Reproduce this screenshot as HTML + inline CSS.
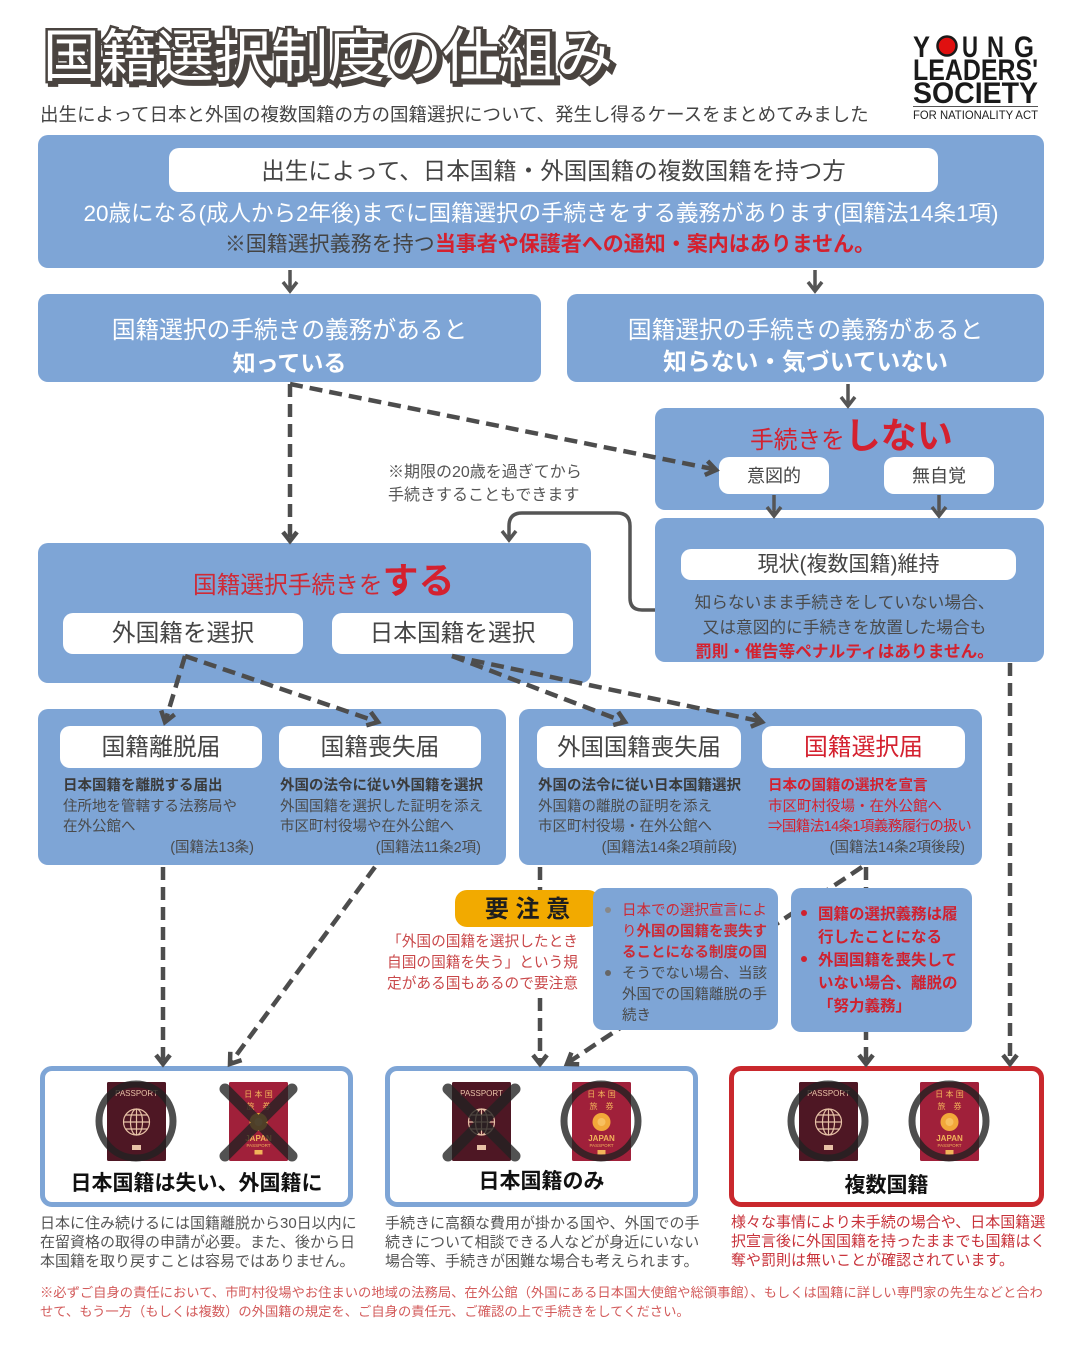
<!DOCTYPE html>
<html><head><meta charset="utf-8">
<style>
*{margin:0;padding:0;box-sizing:border-box}
body{width:1080px;height:1350px;background:#fff;overflow:hidden}
#c{position:relative;width:1080px;height:1350px;font-family:"Liberation Sans","Noto Sans CJK JP",sans-serif;color:#444;background:#fff}
.a{position:absolute;white-space:nowrap;z-index:2}
.box{position:absolute;background:#7ea5d6;border-radius:10px;z-index:1}
.pill{position:absolute;background:#fff;border-radius:10px;text-align:center;color:#454545;white-space:nowrap;z-index:2}
.w{color:#fff}
.r{color:#d4212f}
.b{font-weight:bold}
.n{z-index:4}
.nt{z-index:5}
.sub{font-size:14.5px;line-height:20.5px;color:#4a4a4a}
.sub b{color:#3b3b3b}
.bb{position:absolute;background:#fff;border:5px solid #7ea5d6;border-radius:12px;z-index:1}
.desc{font-size:15px;line-height:19px;color:#555}
</style></head><body><div id="c">

<!-- Title -->
<div class="a" style="left:46px;top:25px;font-size:57px;line-height:70px;font-weight:400;color:#4a4440;-webkit-text-stroke:6px #4a4440">国籍選択制度の仕組み</div>
<div class="a" style="left:43px;top:22px;font-size:57px;line-height:70px;font-weight:400;color:#4a4440;-webkit-text-stroke:5px #4a4440">国籍選択制度の仕組み</div>
<div class="a" style="left:43px;top:22px;font-size:57px;line-height:70px;font-weight:400;color:#fff">国籍選択制度の仕組み</div>

<div class="a" style="left:40px;top:103px;font-size:18.5px;line-height:24px;color:#444">出生によって日本と外国の複数国籍の方の国籍選択について、発生し得るケースをまとめてみました</div>

<!-- Logo -->
<svg class="a" style="left:900px;top:25px" width="160" height="100" viewBox="900 25 160 100">
<g font-family="Liberation Sans, sans-serif" font-weight="bold" font-size="30" fill="#1a1a1a">
<text x="913" y="57" textLength="17" lengthAdjust="spacingAndGlyphs">Y</text>
<text x="962" y="57" textLength="16" lengthAdjust="spacingAndGlyphs">U</text>
<text x="987" y="57" textLength="17" lengthAdjust="spacingAndGlyphs">N</text>
<text x="1014" y="57" textLength="20" lengthAdjust="spacingAndGlyphs">G</text>
<text x="913" y="80" textLength="125" lengthAdjust="spacingAndGlyphs">LEADERS'</text>
<text x="913" y="103" textLength="125" lengthAdjust="spacingAndGlyphs">SOCIETY</text>
</g>
<circle cx="947" cy="46" r="9.5" fill="#e01010" stroke="#1a1a1a" stroke-width="2.5"/>
<line x1="913" y1="106.5" x2="1038" y2="106.5" stroke="#555" stroke-width="1"/>
<text x="913" y="119" font-size="12" textLength="125" lengthAdjust="spacingAndGlyphs" font-family="Liberation Sans, sans-serif" fill="#222">FOR NATIONALITY ACT</text>
</svg>

<!-- Top box -->
<div class="box" style="left:38px;top:135px;width:1006px;height:133px"></div>
<div class="pill" style="left:169px;top:148px;width:769px;height:44px;line-height:46px;font-size:23.5px">出生によって、日本国籍・外国国籍の複数国籍を持つ方</div>
<div class="a w" style="left:38px;top:199px;width:1006px;text-align:center;font-size:22.5px;line-height:30px">20歳になる(成人から2年後)までに国籍選択の手続きをする義務があります(国籍法14条1項)</div>
<div class="a" style="left:47px;top:230px;width:1006px;text-align:center;font-size:21px;line-height:30px;color:#444">※国籍選択義務を持つ<span class="r b">当事者や保護者への通知・案内はありません。</span></div>

<!-- Row 2 -->
<div class="box" style="left:38px;top:294px;width:503px;height:88px"></div>
<div class="a w" style="left:38px;top:316px;width:503px;text-align:center;font-size:23.7px;line-height:30px">国籍選択の手続きの義務があると</div>
<div class="a w b" style="left:38px;top:348px;width:503px;text-align:center;font-size:23px;line-height:30px">知っている</div>
<div class="box" style="left:567px;top:294px;width:477px;height:88px"></div>
<div class="a w" style="left:567px;top:316px;width:477px;text-align:center;font-size:23.7px;line-height:30px">国籍選択の手続きの義務があると</div>
<div class="a w b" style="left:567px;top:348px;width:477px;text-align:center;font-size:23.8px;line-height:30px">知らない・気づいていない</div>

<!-- しない box -->
<div class="box" style="left:655px;top:408px;width:389px;height:102px"></div>
<div class="a r" style="left:750px;top:416px;line-height:40px;font-size:23.7px">手続きを<span class="b" style="font-size:36px">しない</span></div>
<div class="pill" style="left:719px;top:457px;width:110px;height:37px;line-height:38px;font-size:18px">意図的</div>
<div class="pill" style="left:884px;top:457px;width:110px;height:37px;line-height:38px;font-size:18px">無自覚</div>

<!-- 現状 box -->
<div class="box" style="left:655px;top:518px;width:389px;height:144px"></div>
<div class="pill" style="left:681px;top:549px;width:335px;height:31px;line-height:32px;font-size:21px">現状(複数国籍)維持</div>
<div class="a" style="left:650px;top:591px;width:389px;text-align:center;font-size:16.7px;line-height:24.5px;color:#4a4a4a">知らないまま手続きをしていない場合、<br>又は意図的に手続きを放置した場合も<br><span class="r b">罰則・催告等ペナルティはありません。</span></div>

<!-- note -->
<div class="a" style="left:388px;top:461px;font-size:16px;line-height:23px;color:#555">※期限の20歳を過ぎてから<br>手続きすることもできます</div>

<!-- する box -->
<div class="box" style="left:38px;top:543px;width:553px;height:140px"></div>
<div class="a" style="left:193px;top:561px;line-height:40px;font-size:23.7px;color:#cf2a36">国籍選択手続きを<span class="b" style="font-size:36px;color:#d4212f">する</span></div>
<div class="pill" style="left:63px;top:613px;width:240px;height:41px;line-height:42px;font-size:23.7px">外国籍を選択</div>
<div class="pill" style="left:332px;top:613px;width:241px;height:41px;line-height:42px;font-size:23.7px">日本国籍を選択</div>

<!-- Row 3 -->
<div class="box" style="left:38px;top:709px;width:468px;height:156px"></div>
<div class="box" style="left:519px;top:709px;width:463px;height:156px"></div>
<div class="pill" style="left:60px;top:726px;width:202px;height:42px;line-height:43px;font-size:23.8px">国籍離脱届</div>
<div class="pill" style="left:279px;top:726px;width:202px;height:42px;line-height:43px;font-size:23.8px">国籍喪失届</div>
<div class="pill" style="left:537px;top:726px;width:204px;height:42px;line-height:43px;font-size:23.4px">外国国籍喪失届</div>
<div class="pill" style="left:762px;top:726px;width:203px;height:42px;line-height:43px;font-size:23.8px;color:#d4212f">国籍選択届</div>

<div class="a sub" style="left:63px;top:776px;width:191px"><b>日本国籍を離脱する届出</b><br>住所地を管轄する法務局や<br>在外公館へ<div style="text-align:right">(国籍法13条)</div></div>
<div class="a sub" style="left:280px;top:776px;width:201px"><b>外国の法令に従い外国籍を選択</b><br>外国国籍を選択した証明を添え<br>市区町村役場や在外公館へ<div style="text-align:right">(国籍法11条2項)</div></div>
<div class="a sub" style="left:538px;top:776px;width:199px"><b>外国の法令に従い日本国籍選択</b><br>外国籍の離脱の証明を添え<br>市区町村役場・在外公館へ<div style="text-align:right">(国籍法14条2項前段)</div></div>
<div class="a sub" style="left:768px;top:776px;width:197px"><b style="color:#d4212f">日本の国籍の選択を宣言</b><br><span style="color:#d4212f">市区町村役場・在外公館へ</span><br><span style="color:#d4212f;letter-spacing:-0.6px">⇒国籍法14条1項義務履行の扱い</span><div style="text-align:right">(国籍法14条2項後段)</div></div>

<!-- Connectors -->
<svg class="a" style="left:0;top:0;z-index:3;pointer-events:none" width="1080" height="1350" viewBox="0 0 1080 1350">
<g fill="none" stroke="#555" stroke-width="3.5" stroke-linejoin="miter">
<path d="M290,270 V291 M283,282 L290,291 L297,282"/>
<path d="M815,270 V291 M808,282 L815,291 L822,282"/>
<path d="M848,384 V406 M841,397 L848,406 L855,397"/>
<path d="M774,495 V516 M767,507 L774,516 L781,507"/>
<path d="M939,495 V516 M932,507 L939,516 L946,507"/>
<path d="M655,610 H642 Q630,610 630,598 V526 Q630,513 617,513 H522 Q509,513 509,526 V539"/>
<path d="M502,531 L509,540 L516,531"/>
</g>
<g fill="none" stroke="#4d4d4d" stroke-width="4.5" stroke-dasharray="13 7">
<path d="M290,384 V538"/>
<path d="M290,384 L713,469"/>
<path d="M185,656 L166,719"/>
<path d="M185,656 L375,721"/>
<path d="M452,656 L622,721"/>
<path d="M452,656 L759,721"/>
<path d="M163,867 V1061"/>
<path d="M375,867 L232,1061"/>
<path d="M540,867 V890"/>
<path d="M540,998 V1061"/>
<path d="M862,867 L569,1062"/>
<path d="M866,867 V1061"/>
<path d="M1010,663 V1061"/>
</g>
<g fill="none" stroke="#4d4d4d" stroke-width="4.5" stroke-linejoin="miter">
<polyline points="283,532 290,541 297,532"/>
<polyline points="707.6,461.1 716,470 704.8,474.9"/>
<polyline points="174.6,714.5 165,722 161.2,710.4"/>
<polyline points="366.3,725.4 378,722 370.8,712.1"/>
<polyline points="613.2,725 625,722 618.2,711.9"/>
<polyline points="750.8,726.7 762,722 753.7,713"/>
<polyline points="156,1055 163,1064 170,1055"/>
<polyline points="241.6,1060.1 230,1064 230.3,1051.8"/>
<polyline points="533,1055 540,1064 547,1055"/>
<polyline points="579.2,1064.3 567,1064 571.4,1052.6"/>
<polyline points="859,1055 866,1064 873,1055"/>
<polyline points="1003,1055 1010,1064 1017,1055"/>
</g>
</svg>

<!-- 要注意 -->
<div class="a n" style="left:455px;top:890px;width:145px;height:37px;background:#f2aa00;border-radius:12px"></div>
<div class="a n" style="left:599px;top:898px;width:0;height:0;border-left:13px solid #f2aa00;border-top:10px solid transparent;border-bottom:10px solid transparent"></div>
<div class="a nt b" style="left:455px;top:891px;width:145px;text-align:center;font-size:24px;line-height:37px;color:#1e1e1e">要 注 意</div>
<div class="a nt" style="left:387px;top:932px;font-size:14.7px;line-height:21px;color:#c9484a;background:#fff">「外国の国籍を選択したとき<br>自国の国籍を失う」という規<br>定がある国もあるので要注意</div>

<!-- note boxes -->
<div class="box n" style="left:593px;top:888px;width:185px;height:142px"></div>
<div class="a nt" style="left:605px;top:907px;width:6px;height:6px;border-radius:3px;background:#888"></div>
<div class="a nt" style="left:605px;top:970px;width:6px;height:6px;border-radius:3px;background:#666"></div>
<div class="a nt" style="left:622px;top:900.5px;font-size:14.5px;line-height:21px;color:#cc2b36">日本での選択宣言によ<br>り<b>外国の国籍を喪失す</b><br><b>ることになる制度の国</b><br><span style="color:#4a4a4a">そうでない場合、当該<br>外国での国籍離脱の手<br>続き</span></div>

<div class="box n" style="left:791px;top:888px;width:181px;height:144px"></div>
<div class="a nt" style="left:801px;top:910px;width:6px;height:6px;border-radius:3px;background:#d0212f"></div>
<div class="a nt" style="left:801px;top:956px;width:6px;height:6px;border-radius:3px;background:#d0212f"></div>
<div class="a nt b" style="left:818px;top:902.5px;font-size:15.5px;line-height:23px;color:#d0212f">国籍の選択義務は履<br>行したことになる<br>外国国籍を喪失して<br>いない場合、離脱の<br>「努力義務」</div>

<!-- Bottom boxes -->
<div class="bb" style="left:40px;top:1066px;width:313px;height:141px"></div>
<div class="bb" style="left:385px;top:1066px;width:313px;height:141px"></div>
<div class="bb" style="left:729px;top:1066px;width:315px;height:141px;border-color:#c9282d"></div>

<svg class="a" style="left:0;top:1060px;z-index:5" width="1080" height="120" viewBox="0 1060 1080 120">
<!-- Box A foreign -->
<g transform="translate(107,1082)">
<rect width="59" height="79" rx="1.5" fill="#4e1724"/>
<text x="29.5" y="14" font-size="8" text-anchor="middle" fill="#e7c1a6" font-family="Liberation Sans, sans-serif">PASSPORT</text>
<g fill="none" stroke="#e7c1a6" stroke-width="1.2"><circle cx="29.5" cy="40" r="13"/><ellipse cx="29.5" cy="40" rx="6" ry="13"/><line x1="29.5" y1="27" x2="29.5" y2="53"/><line x1="16.5" y1="40" x2="42.5" y2="40"/><line x1="18.5" y1="33" x2="40.5" y2="33"/><line x1="18.5" y1="47" x2="40.5" y2="47"/></g>
<rect x="25" y="63" width="9" height="5" fill="#e7c1a6"/>
</g>
<circle cx="136" cy="1121" r="37" fill="none" stroke="#222" stroke-width="7" opacity="0.8"/>
<!-- Box A japan -->
<g transform="translate(229,1082)">
<rect width="59" height="79" rx="1.5" fill="#a0203a"/>
<text x="29.5" y="15" font-size="8" text-anchor="middle" fill="#f2b45a" font-family="Liberation Sans, Noto Sans CJK JP, sans-serif">日 本 国</text>
<text x="29.5" y="27" font-size="8" text-anchor="middle" fill="#f2b45a" font-family="Liberation Sans, Noto Sans CJK JP, sans-serif">旅　券</text>
<circle cx="29.5" cy="40" r="9" fill="#f2a83a"/><circle cx="29.5" cy="40" r="4" fill="#f8c060"/>
<text x="29.5" y="59" font-size="8" font-weight="bold" text-anchor="middle" fill="#f2b45a" font-family="Liberation Sans, sans-serif">JAPAN</text>
<text x="29.5" y="65" font-size="4.5" text-anchor="middle" fill="#f2b45a" font-family="Liberation Sans, sans-serif">PASSPORT</text>
<rect x="25.5" y="68" width="8" height="4.5" fill="#f2b45a"/>
</g>
<path d="M225,1089 L292,1156 M292,1089 L225,1156" stroke="#222" stroke-width="11" stroke-linecap="round" opacity="0.78"/>

<!-- Box B foreign -->
<g transform="translate(452,1082)">
<rect width="59" height="79" rx="1.5" fill="#4e1724"/>
<text x="29.5" y="14" font-size="8" text-anchor="middle" fill="#e7c1a6" font-family="Liberation Sans, sans-serif">PASSPORT</text>
<g fill="none" stroke="#e7c1a6" stroke-width="1.2"><circle cx="29.5" cy="40" r="13"/><ellipse cx="29.5" cy="40" rx="6" ry="13"/><line x1="29.5" y1="27" x2="29.5" y2="53"/><line x1="16.5" y1="40" x2="42.5" y2="40"/><line x1="18.5" y1="33" x2="40.5" y2="33"/><line x1="18.5" y1="47" x2="40.5" y2="47"/></g>
<rect x="25" y="63" width="9" height="5" fill="#e7c1a6"/>
</g>
<path d="M448,1089 L515,1156 M515,1089 L448,1156" stroke="#222" stroke-width="11" stroke-linecap="round" opacity="0.78"/>
<!-- Box B japan -->
<g transform="translate(572,1082)">
<rect width="59" height="79" rx="1.5" fill="#a0203a"/>
<text x="29.5" y="15" font-size="8" text-anchor="middle" fill="#f2b45a" font-family="Liberation Sans, Noto Sans CJK JP, sans-serif">日 本 国</text>
<text x="29.5" y="27" font-size="8" text-anchor="middle" fill="#f2b45a" font-family="Liberation Sans, Noto Sans CJK JP, sans-serif">旅　券</text>
<circle cx="29.5" cy="40" r="9" fill="#f2a83a"/><circle cx="29.5" cy="40" r="4" fill="#f8c060"/>
<text x="29.5" y="59" font-size="8" font-weight="bold" text-anchor="middle" fill="#f2b45a" font-family="Liberation Sans, sans-serif">JAPAN</text>
<text x="29.5" y="65" font-size="4.5" text-anchor="middle" fill="#f2b45a" font-family="Liberation Sans, sans-serif">PASSPORT</text>
<rect x="25.5" y="68" width="8" height="4.5" fill="#f2b45a"/>
</g>
<circle cx="601" cy="1121" r="37" fill="none" stroke="#222" stroke-width="7" opacity="0.8"/>

<!-- Box C foreign -->
<g transform="translate(799,1082)">
<rect width="59" height="79" rx="1.5" fill="#4e1724"/>
<text x="29.5" y="14" font-size="8" text-anchor="middle" fill="#e7c1a6" font-family="Liberation Sans, sans-serif">PASSPORT</text>
<g fill="none" stroke="#e7c1a6" stroke-width="1.2"><circle cx="29.5" cy="40" r="13"/><ellipse cx="29.5" cy="40" rx="6" ry="13"/><line x1="29.5" y1="27" x2="29.5" y2="53"/><line x1="16.5" y1="40" x2="42.5" y2="40"/><line x1="18.5" y1="33" x2="40.5" y2="33"/><line x1="18.5" y1="47" x2="40.5" y2="47"/></g>
<rect x="25" y="63" width="9" height="5" fill="#e7c1a6"/>
</g>
<circle cx="828" cy="1121" r="37" fill="none" stroke="#222" stroke-width="7" opacity="0.8"/>
<!-- Box C japan -->
<g transform="translate(920,1082)">
<rect width="59" height="79" rx="1.5" fill="#a0203a"/>
<text x="29.5" y="15" font-size="8" text-anchor="middle" fill="#f2b45a" font-family="Liberation Sans, Noto Sans CJK JP, sans-serif">日 本 国</text>
<text x="29.5" y="27" font-size="8" text-anchor="middle" fill="#f2b45a" font-family="Liberation Sans, Noto Sans CJK JP, sans-serif">旅　券</text>
<circle cx="29.5" cy="40" r="9" fill="#f2a83a"/><circle cx="29.5" cy="40" r="4" fill="#f8c060"/>
<text x="29.5" y="59" font-size="8" font-weight="bold" text-anchor="middle" fill="#f2b45a" font-family="Liberation Sans, sans-serif">JAPAN</text>
<text x="29.5" y="65" font-size="4.5" text-anchor="middle" fill="#f2b45a" font-family="Liberation Sans, sans-serif">PASSPORT</text>
<rect x="25.5" y="68" width="8" height="4.5" fill="#f2b45a"/>
</g>
<circle cx="949" cy="1121" r="37" fill="none" stroke="#222" stroke-width="7" opacity="0.8"/>
</svg>

<div class="a b nt" style="left:40px;top:1169px;width:313px;text-align:center;font-size:21px;line-height:30px;color:#111">日本国籍は失い、外国籍に</div>
<div class="a b nt" style="left:385px;top:1167px;width:313px;text-align:center;font-size:21px;line-height:30px;color:#111">日本国籍のみ</div>
<div class="a b nt" style="left:729px;top:1171px;width:315px;text-align:center;font-size:21px;line-height:30px;color:#111">複数国籍</div>

<div class="a desc" style="left:40px;top:1214px">日本に住み続けるには国籍離脱から30日以内に<br>在留資格の取得の申請が必要。また、後から日<br>本国籍を取り戻すことは容易ではありません。</div>
<div class="a desc" style="left:385px;top:1214px">手続きに高額な費用が掛かる国や、外国での手<br>続きについて相談できる人などが身近にいない<br>場合等、手続きが困難な場合も考えられます。</div>
<div class="a desc" style="left:731px;top:1213px;color:#c8323a">様々な事情により未手続の場合や、日本国籍選<br>択宣言後に外国国籍を持ったままでも国籍はく<br>奪や罰則は無いことが確認されています。</div>

<div class="a" style="left:40px;top:1283px;font-size:13.3px;line-height:19px;color:#d35b5b">※必ずご自身の責任において、市町村役場やお住まいの地域の法務局、在外公館（外国にある日本国大使館や総領事館）、もしくは国籍に詳しい専門家の先生などと合わ<br>せて、もう一方（もしくは複数）の外国籍の規定を、ご自身の責任元、ご確認の上で手続きをしてください。</div>

</div></body></html>
